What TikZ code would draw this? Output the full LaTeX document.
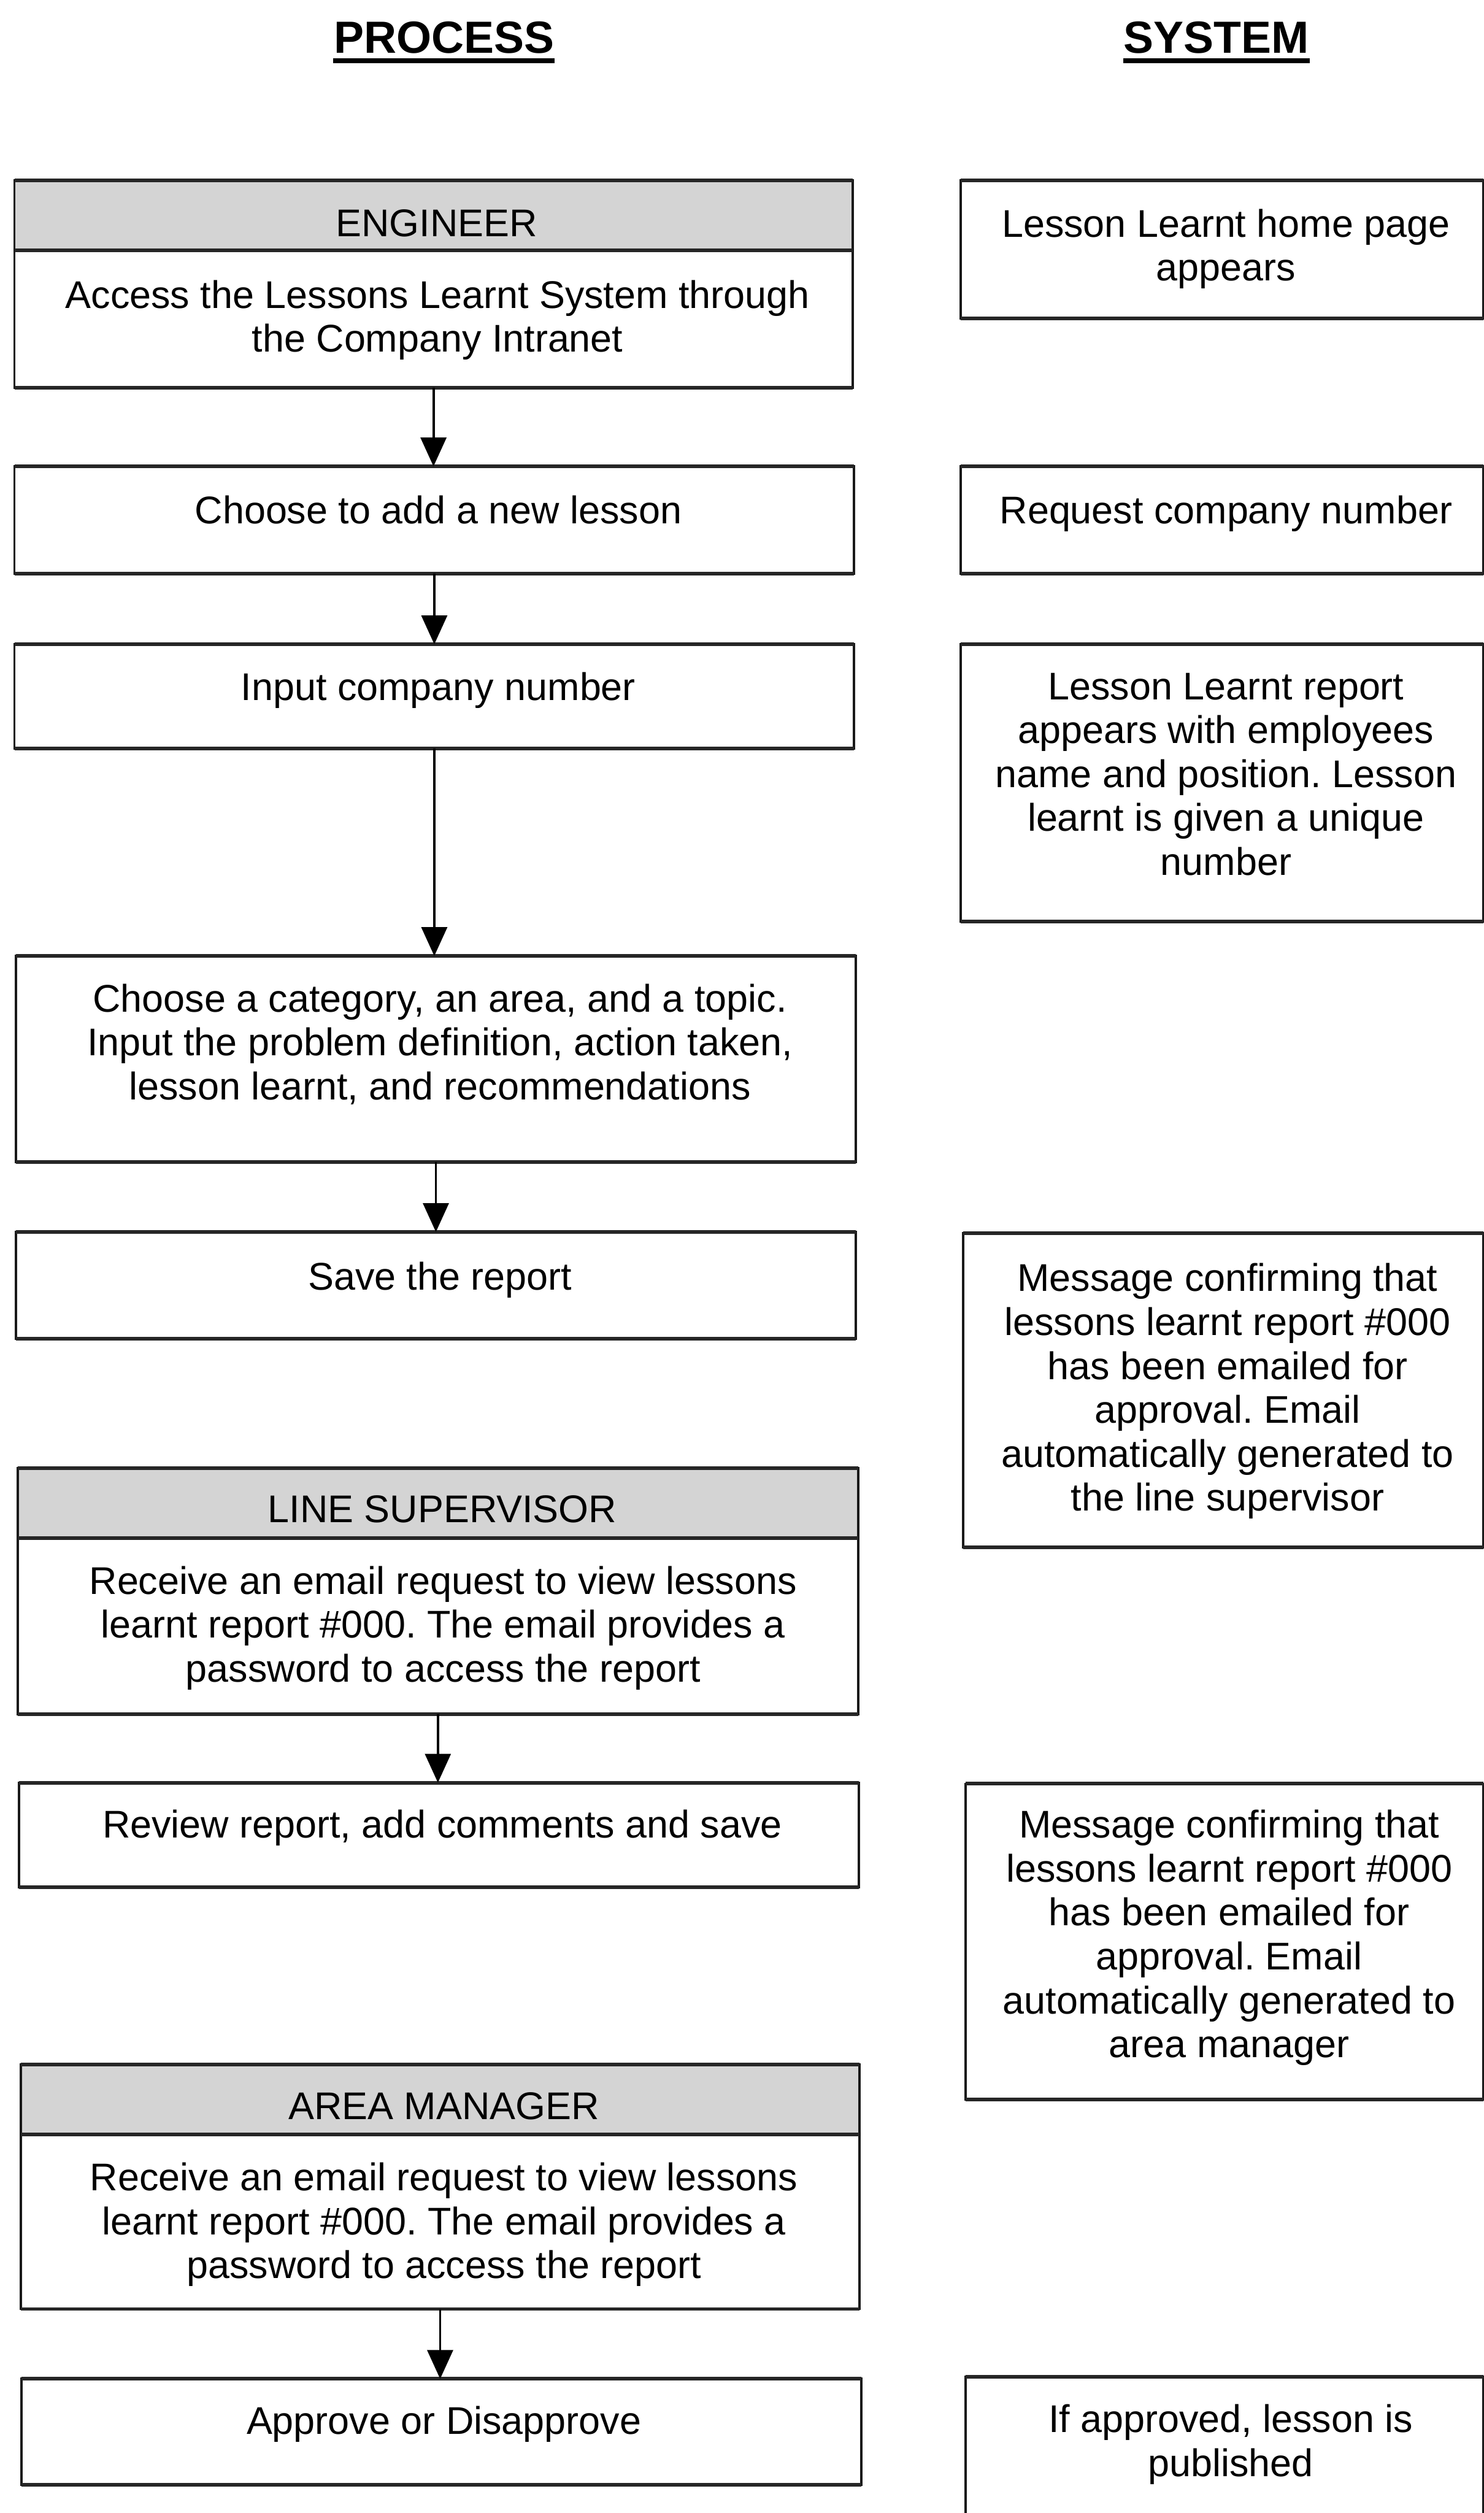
\documentclass[tikz,border=0pt]{standalone}
\usepackage{fontspec}
\setmainfont{Liberation Sans}
\frenchspacing
\usetikzlibrary{arrows.meta,fit}
\begin{document}
\begin{tikzpicture}[x=0.02cm,y=-0.02cm,
  box/.style={draw=black!90, line width=0.85pt, inner sep=0pt, outer sep=0pt, fill=white},
  hdr/.style={box, fill=black!17},
  hedge/.style={draw=black!85, line width=1.3pt},
  txt/.style={font=\fontsize{13.7}{15.6}\selectfont, align=center, inner sep=0pt, anchor=north},
  role/.style={font=\fontsize{13.7}{15.6}\selectfont, inner sep=0pt, anchor=base},
  heading/.style={font=\fontsize{16}{19}\selectfont\bfseries, inner sep=0pt, anchor=base},
  uline/.style={line width=1.7pt},
  flow/.style={line width=0.85pt, -{Triangle[length=0.36cm,width=0.32cm]}}
]
\path[use as bounding box, clip] (0,0) rectangle (926,1568);

% column headings
\node[heading] (hp) at (277,33) {PROCESS};
\node[heading] (hs) at (759,33) {SYSTEM};
\draw[uline] ([yshift=-0.1cm]hp.base west) -- ([yshift=-0.1cm]hp.base east);
\draw[uline] ([yshift=-0.1cm]hs.base west) -- ([yshift=-0.1cm]hs.base east);

% process column
\node[box, fit={(9,112.7) (532,242.1)}] (B1) {};
\node[hdr, fit={(9,112.7) (532,156.3)}] (B1h) {};
\node[box, fit={(9,291) (533,358)}] (B2) {};
\node[box, fit={(9,402) (533,467)}] (B3) {};
\node[box, fit={(10,596.5) (534,725)}] (B4) {};
\node[box, fit={(10,768.7) (534,835.2)}] (B5) {};
\node[box, fit={(11,916) (535.5,1069.6)}] (B6) {};
\node[hdr, fit={(11,916) (535.5,959.8)}] (B6h) {};
\node[box, fit={(12,1112.3) (536,1177.4)}] (B7) {};
\node[box, fit={(13,1288.1) (536.3,1440.7)}] (B8) {};
\node[hdr, fit={(13,1288.1) (536.3,1331.7)}] (B8h) {};
\node[box, fit={(13.3,1484.3) (537.3,1550.5)}] (B9) {};

% system column
\node[box, fit={(599.5,112.7) (925.5,198.8)}] (R1) {};
\node[box, fit={(599.5,291) (925.5,358)}] (R2) {};
\node[box, fit={(599.5,402) (925.5,575)}] (R3) {};
\node[box, fit={(601,769.4) (925.5,965.6)}] (R5) {};
\node[box, fit={(602.4,1113) (925.5,1310)}] (R7) {};
\node[box, fit={(602.6,1483) (925.5,1600)}] (R9) {};

% heavier top and bottom rules
\foreach \n in {B1,B1h,B2,B3,B4,B5,B6,B6h,B7,B8,B8h,B9,R1,R2,R3,R5,R7,R9}
  \draw[hedge] (\n.north west) -- (\n.north east) (\n.south west) -- (\n.south east);

% role headers
\node[role] (B1r) at (272.5,147.4) {ENGINEER};
\node[role] (B6r) at (276,950.1) {LINE SUPERVISOR};
\node[role] (B8r) at (277,1322.5) {AREA MANAGER};

% process texts
\node[txt] (B1t) at (273,174.5) {Access the Lessons Learnt System through\\the Company Intranet};
\node[txt] (B2t) at (273.5,309) {Choose to add a new lesson};
\node[txt] (B3t) at (273.5,419) {Input company number};
\node[txt] (B4t) at (274.5,613.6) {Choose a category, an area, and a topic.\\Input the problem definition, action taken,\\lesson learnt, and recommendations};
\node[txt] (B5t) at (274.5,787) {Save the report};
\node[txt] (B6t) at (276.5,976.8) {Receive an email request to view lessons\\learnt report \#000. The email provides a\\password to access the report};
\node[txt] (B7t) at (276,1129) {Review report, add comments and save};
\node[txt] (B8t) at (277,1349) {Receive an email request to view lessons\\learnt report \#000. The email provides a\\password to access the report};
\node[txt] (B9t) at (277,1501) {Approve or Disapprove};

% system texts
\node[txt] (R1t) at (765,130) {Lesson Learnt home page\\appears};
\node[txt] (R2t) at (765,309) {Request company number};
\node[txt] (R3t) at (765,419.5) {Lesson Learnt report\\appears with employees\\name and position. Lesson\\learnt is given a unique\\number};
\node[txt] (R5t) at (766,788) {Message confirming that\\lessons learnt report \#000\\has been emailed for\\approval. Email\\automatically generated to\\the line supervisor};
\node[txt] (R7t) at (767,1129) {Message confirming that\\lessons learnt report \#000\\has been emailed for\\approval. Email\\automatically generated to\\area manager};
\node[txt] (R9t) at (768,1500) {If approved, lesson is\\published};

% flow arrows
\draw[flow] (B1.south) -- (B1.south |- B2.north);
\draw[flow] (B2.south) -- (B2.south |- B3.north);
\draw[flow] (B3.south) -- (B3.south |- B4.north);
\draw[flow] (B4.south) -- (B4.south |- B5.north);
\draw[flow] (B6.south) -- (B6.south |- B7.north);
\draw[flow] (B8.south) -- (B8.south |- B9.north);
\end{tikzpicture}
\end{document}
